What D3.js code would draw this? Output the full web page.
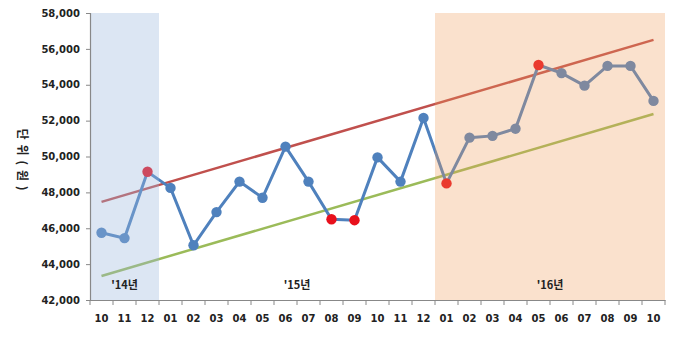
<!DOCTYPE html>
<html><head><meta charset="utf-8">
<script src="https://cdn.jsdelivr.net/npm/d3@7"></script>
<style>
html,body{margin:0;padding:0;background:#fff;}
text{font-family:"DejaVu Sans",sans-serif;font-weight:bold;}
.kr{font-family:"Noto Sans CJK KR","DejaVu Sans",sans-serif;font-weight:bold;}
</style></head>
<body><svg id="c" width="680" height="340"></svg>
<script>
const months = ["10","11","12","01","02","03","04","05","06","07","08","09","10","11","12","01","02","03","04","05","06","07","08","09","10"];
const values = [45750,45450,49150,48250,45050,46900,48600,47700,50550,48600,46500,46450,49950,48600,52150,48500,51050,51150,51550,55100,54650,53950,55050,55050,53100];
const redIdx = [2,10,11,15,19];
const upperTrend = [47470,56500];
const lowerTrend = [43340,52370];
const yearLabels = ["'14년","'15년","'16년"];
const yearStart = [0,3,15];
const yearEnd = [3,15,25];
const yTicks = [42000,44000,46000,48000,50000,52000,54000,56000,58000];
const yLabel = "단위(원)";

const svg = d3.select("#c");
const L=90, R=665, T=13, B=300;
const idx = months.map((d,i)=>i);
const x = d3.scaleBand().domain(idx).range([L,R]);
const cx = i => x(i)+x.bandwidth()/2;
const y = d3.scaleLinear().domain([42000,58000]).range([B,T]);

// trend lines
const trend = (arr,color)=>svg.append("line")
  .attr("x1",cx(0)).attr("x2",cx(idx.length-1))
  .attr("y1",y(arr[0])).attr("y2",y(arr[1]))
  .attr("stroke",color).attr("stroke-width",2.5);
trend(upperTrend,"#c0504d");
trend(lowerTrend,"#9bbb59");

// data line
svg.append("path").datum(values)
  .attr("d",d3.line().x((d,i)=>cx(i)).y(d=>y(d)))
  .attr("fill","none").attr("stroke","#4f81bd").attr("stroke-width",3);
svg.selectAll("circle.pt").data(values).join("circle")
  .attr("cx",(d,i)=>cx(i)).attr("cy",d=>y(d)).attr("r",5.2)
  .attr("fill",(d,i)=>redIdx.includes(i)?"#e8101c":"#4f81bd");

// shaded bands (overlay)
const bandColors = ["#9ab8de", null, "#f09a5a"];
const bandOp = [0.35, 0, 0.3];
yearLabels.forEach((yl,k)=>{
  if(!bandColors[k]) return;
  svg.append("rect").attr("x",x(yearStart[k])).attr("y",T)
    .attr("width",x(yearEnd[k]-1)+x.bandwidth()-x(yearStart[k])).attr("height",B-T)
    .attr("fill",bandColors[k]).attr("opacity",bandOp[k]);
});

// year labels
yearLabels.forEach((yl,k)=>{
  const xm = (x(yearStart[k]) + x(yearEnd[k]-1)+x.bandwidth())/2;
  svg.append("text").attr("class","kr").attr("x",xm).attr("y",289)
    .attr("text-anchor","middle").attr("font-size",11).attr("fill","#222").text(yl);
});

// axes
const ya = svg.append("g").attr("transform",`translate(${L},0)`)
  .call(d3.axisLeft(y).tickValues(yTicks).tickFormat(d3.format(",")).tickSize(4).tickPadding(6));
ya.select(".domain").attr("stroke","#888").attr("stroke-width",1.2);
ya.selectAll(".tick line").attr("stroke","#888");
ya.selectAll("text").attr("font-size",10).attr("fill","#222").style("font-family","DejaVu Sans").style("font-weight","bold");

const xa = svg.append("g").attr("transform",`translate(0,${B})`)
  .call(d3.axisBottom(x).tickFormat(i=>months[i]).tickSize(0).tickPadding(15));
xa.select(".domain").attr("stroke","#888").attr("stroke-width",1.2);
xa.selectAll("text").attr("font-size",10).attr("fill","#222").style("font-family","DejaVu Sans").style("font-weight","bold");
// boundary ticks
xa.selectAll("line.bt").data(d3.range(idx.length+1)).join("line").attr("class","bt")
  .attr("x1",i=>L+i*x.bandwidth()).attr("x2",i=>L+i*x.bandwidth())
  .attr("y1",0).attr("y2",5).attr("stroke","#888");

// y label
svg.append("text").attr("class","kr")
  .attr("transform","translate(18,162) rotate(90)")
  .attr("text-anchor","middle").attr("font-size",12).attr("letter-spacing",5)
  .attr("fill","#222").text(yLabel);
</script></body></html>
